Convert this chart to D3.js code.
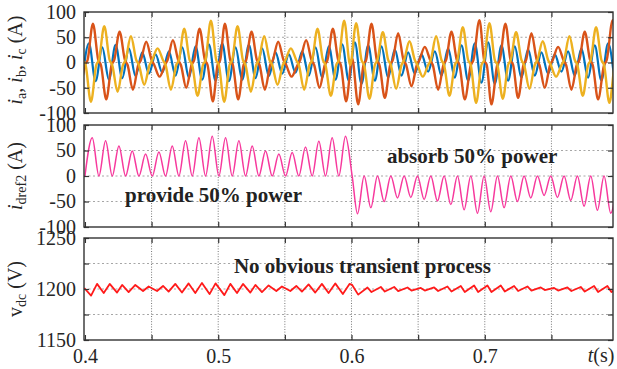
<!DOCTYPE html>
<html>
<head>
<meta charset="utf-8">
<script src="https://cdn.jsdelivr.net/npm/d3@7"></script>
<style>
  body { margin: 0; background: #fff; }
  text { font-family: "Liberation Serif", "Times New Roman", serif; }
</style>
</head>
<body>
<div id="chart"></div>
<script>
// ---- data ----
const xTicks = [0.4, 0.5, 0.6, 0.7];
const xGrid = [0.45, 0.5, 0.55, 0.6, 0.65, 0.7, 0.75];
const currentTicks = [-100, -50, 0, 50, 100];
const vdcTicks = [1150, 1175, 1200, 1225, 1250];
const vdcTickLabels = [1150, 1200, 1250];

// phase currents [t, A]
const iaBlue = [
  [0.398,-35],[0.403,38],[0.408,-37],[0.413,30],[0.418,-34],[0.423,35],[0.428,-31],[0.433,28],[0.438,-27],[0.443,20],
  [0.448,-22],[0.453,16],[0.458,-20],[0.463,22],[0.468,-26],[0.473,30],[0.478,-30],[0.483,32],[0.488,-34],[0.493,36],
  [0.498,-36],[0.503,38],[0.508,-37],[0.513,30],[0.518,-34],[0.523,35],[0.528,-31],[0.533,28],[0.538,-27],[0.543,20],
  [0.548,-22],[0.553,16],[0.558,-20],[0.563,22],[0.568,-26],[0.573,30],[0.578,-30],[0.583,32],[0.588,-34],[0.593,36],
  [0.598,-36],[0.6025,40],[0.6075,-42],[0.6125,34],[0.6175,-36],[0.6225,32],[0.6275,-30],[0.6325,26],[0.6375,-26],[0.6425,20],
  [0.6475,-22],[0.6525,16],[0.6575,-18],[0.6625,22],[0.6675,-26],[0.6725,28],[0.6775,-30],[0.6825,34],[0.6875,-36],[0.6925,38],
  [0.6975,-40],[0.7025,40],[0.7075,-42],[0.7125,34],[0.7175,-36],[0.7225,32],[0.7275,-30],[0.7325,26],[0.7375,-26],[0.7425,20],
  [0.7475,-22],[0.7525,16],[0.7575,-18],[0.7625,22],[0.7675,-26],[0.7725,28],[0.7775,-30],[0.7825,34],[0.7875,-36],[0.7925,38],
  [0.7975,-40]
];
const ibOrange = [
  [0.396,-76],[0.400,-5],[0.402,5],[0.406,77],[0.410,5],[0.412,-5],[0.416,-73],[0.420,-5],[0.422,5],
  [0.426,61],[0.430,5],[0.432,-5],[0.436,-54],[0.440,-5],[0.442,5],[0.446,41],[0.450,5],[0.452,-5],
  [0.456,-28],[0.460,-5],[0.462,5],[0.466,44],[0.470,5],[0.472,-5],[0.476,-50],[0.480,-5],[0.482,5],
  [0.486,67],[0.490,5],[0.492,-5],[0.496,-77],[0.4995,-5],[0.5015,5],[0.505,77],[0.509,5],[0.511,-5],
  [0.515,-73],[0.519,-5],[0.521,5],[0.525,61],[0.529,5],[0.531,-5],[0.535,-54],[0.539,-5],[0.541,5],
  [0.545,41],[0.549,5],[0.551,-5],[0.555,-28],[0.5595,-5],[0.5615,5],[0.566,44],[0.570,5],[0.572,-5],
  [0.576,-50],[0.580,-5],[0.582,5],[0.586,67],[0.590,5],[0.592,-5],[0.596,-77],[0.6005,8],
  [0.605,-83],[0.609,-5],[0.611,5],[0.615,77],[0.619,5],[0.621,-5],[0.625,-70],[0.629,-5],[0.631,5],
  [0.635,58],[0.639,5],[0.641,-5],[0.645,-47],[0.649,-5],[0.651,5],[0.655,31],[0.659,5],[0.661,-5],
  [0.665,-54],[0.669,-5],[0.671,5],[0.675,61],[0.679,5],[0.681,-5],[0.685,-73],[0.6895,-5],[0.6915,5],
  [0.696,84],[0.6995,5],[0.7015,-5],[0.705,-83],[0.7093,-5],[0.7113,5],[0.7155,77],[0.7193,5],[0.7213,-5],
  [0.725,-70],[0.729,-5],[0.731,5],[0.735,58],[0.739,5],[0.741,-5],[0.745,-50],[0.749,-5],[0.751,5],
  [0.755,31],[0.759,5],[0.761,-5],[0.765,-54],[0.769,-5],[0.771,5],[0.775,61],[0.779,5],[0.781,-5],
  [0.785,-73],[0.7895,-5],[0.7915,5],[0.796,84],[0.800,5],[0.802,-5],[0.806,-80]
];
const icYellow = [
  [0.3945,83],[0.3985,5],[0.4005,-5],[0.4045,-78],[0.4085,-5],[0.4105,5],[0.4145,72],[0.4185,5],[0.4205,-5],
  [0.4245,-58],[0.4285,-5],[0.4305,5],[0.4345,52],[0.4385,5],[0.4405,-5],[0.4445,-44],[0.4485,-5],[0.4505,5],
  [0.4545,28],[0.4585,5],[0.4605,-5],[0.4645,-54],[0.4685,-5],[0.4705,5],[0.4745,67],[0.4785,5],[0.4805,-5],
  [0.4845,-66],[0.4885,-5],[0.4905,5],[0.4945,83],[0.4985,5],[0.5005,-5],[0.5045,-78],[0.5085,-5],[0.5105,5],
  [0.5145,72],[0.5185,5],[0.5205,-5],[0.5245,-58],[0.5285,-5],[0.5305,5],[0.5345,52],[0.5385,5],[0.5405,-5],
  [0.5445,-44],[0.5485,-5],[0.5505,5],[0.5545,28],[0.5585,5],[0.5605,-5],[0.5645,-54],[0.5685,-5],[0.5705,5],
  [0.5745,67],[0.5785,5],[0.5805,-5],[0.5845,-66],[0.5885,-5],[0.5905,5],[0.5945,83],[0.599,-5],
  [0.6035,78],[0.6075,5],[0.6095,-5],[0.6135,-72],[0.6175,-5],[0.6195,5],[0.6235,60],[0.6275,5],[0.6295,-5],
  [0.6335,-52],[0.6375,-5],[0.6395,5],[0.6435,42],[0.6475,5],[0.6495,-5],[0.6535,-28],[0.6575,-5],[0.6595,5],
  [0.6635,52],[0.6675,5],[0.6695,-5],[0.6735,-66],[0.6775,-5],[0.6795,5],[0.6835,70],[0.6875,5],[0.6895,-5],
  [0.6935,-80],[0.6975,-5],[0.6995,5],[0.7035,78],[0.7075,5],[0.7095,-5],[0.7135,-72],[0.7175,-5],[0.7195,5],
  [0.7235,60],[0.7275,5],[0.7295,-5],[0.7335,-52],[0.7375,-5],[0.7395,5],[0.7435,42],[0.7475,5],[0.7495,-5],
  [0.7535,-28],[0.7575,-5],[0.7595,5],[0.7635,52],[0.7675,5],[0.7695,-5],[0.7735,-66],[0.7775,-5],[0.7795,5],
  [0.7835,70],[0.7875,5],[0.7895,-5],[0.7935,-80],[0.7975,-5],[0.7995,5],[0.8035,78]
];

// reference current i_dref2 [t, A]
const idref2 = [
  [0.4000,0],[0.4055,75],[0.4105,0],[0.4155,69],[0.4205,0],[0.4255,59],[0.4305,0],[0.4355,49],[0.4405,0],[0.4455,43],
  [0.4505,0],[0.4555,47],[0.4605,0],[0.4655,59],[0.4705,0],[0.4755,69],[0.4805,0],[0.4855,75],[0.4905,0],[0.4955,78],
  [0.5005,0],[0.5055,75],[0.5105,0],[0.5155,69],[0.5205,0],[0.5255,59],[0.5305,0],[0.5355,49],[0.5405,0],[0.5455,43],
  [0.5505,0],[0.5555,46],[0.5605,0],[0.5655,57],[0.5705,0],[0.5755,68],[0.5805,0],[0.5855,75],[0.5905,0],[0.5955,78],
  [0.6005,0],[0.6045,-74],[0.6095,0],[0.6145,-62],[0.6195,0],[0.6245,-50],[0.6295,0],[0.6345,-43],[0.6395,0],[0.6445,-42],
  [0.6495,0],[0.6545,-46],[0.6595,0],[0.6645,-49],[0.6695,0],[0.6745,-56],[0.6795,0],[0.6845,-66],[0.6895,0],[0.6945,-73],
  [0.6995,0],[0.7045,-70],[0.7095,0],[0.7145,-62],[0.7195,0],[0.7245,-50],[0.7295,0],[0.7345,-43],[0.7395,0],[0.7445,-38],
  [0.7495,0],[0.7545,-42],[0.7595,0],[0.7645,-48],[0.7695,0],[0.7745,-59],[0.7795,0],[0.7845,-67],[0.7895,0],[0.7945,-73],
  [0.7995,0]
];

// dc link voltage [t, V]
const vdc = [
  [0.3995,1201],[0.4046,1193.5],[0.4091,1205],[0.4141,1196],[0.4186,1205],[0.4241,1196.5],[0.4279,1204],[0.4328,1197],[0.4378,1204],[0.4436,1198],
  [0.4478,1202.5],[0.4541,1198],[0.4586,1203],[0.4628,1197.5],[0.4678,1205],[0.4728,1196.5],[0.4778,1205.5],[0.4828,1196],[0.4878,1206],[0.4935,1195],
  [0.4980,1205.5],[0.5046,1194],[0.5091,1205],[0.5141,1196],[0.5186,1205],[0.5241,1196.5],[0.5279,1204],[0.5328,1197],[0.5378,1203.5],[0.5436,1198],
  [0.5478,1202.5],[0.5541,1198],[0.5586,1203],[0.5628,1197.5],[0.5678,1204.5],[0.5728,1196.5],[0.5778,1205],[0.5828,1196],[0.5878,1205.5],[0.5935,1195],
  [0.5985,1205],[0.6005,1204],[0.6050,1194.5],[0.6120,1201.5],[0.6150,1197],[0.6220,1202],[0.6250,1197.5],[0.6320,1202],[0.6350,1198],[0.6420,1201.5],
  [0.6450,1198.5],[0.6520,1201],[0.6550,1198.5],[0.6620,1201.5],[0.6650,1198],[0.6720,1202.5],[0.6750,1197.5],[0.6820,1203],[0.6850,1197],[0.6920,1203.5],
  [0.6950,1197],[0.7020,1203.5],[0.7050,1197],[0.7120,1203.5],[0.7150,1197.5],[0.7220,1203],[0.7250,1198],[0.7320,1202.5],[0.7350,1198.5],[0.7420,1201.5],
  [0.7450,1199],[0.7520,1201],[0.7550,1198.5],[0.7620,1201.5],[0.7650,1198],[0.7720,1202],[0.7750,1197.5],[0.7820,1203],[0.7850,1197],[0.7920,1203],
  [0.7950,1197],[0.8020,1203]
];

const annotations = [
  { text: 'absorb 50% power', t: 0.6266, v: 25, panel: 1 },
  { text: 'provide 50% power', t: 0.4301, v: -50, panel: 1 },
  { text: 'No obvious transient process', t: 0.5118, v: 1215.5, panel: 2 }
];

// ---- layout ----
const width = 617;
const height = 369;
const left = 84, right = 613;

const svg = d3.select('#chart')
  .append('svg')
  .attr('width', width)
  .attr('height', height);

// X Scale
const x = d3.scaleLinear()
  .domain([0.3993, 0.7962])
  .range([left, right]);

const panels = [
  { top: 12, bottom: 113, domain: [-100, 100], ticks: currentTicks, labels: currentTicks, grid: [-50, 0, 50] },
  { top: 125, bottom: 227, domain: [-100, 100], ticks: currentTicks, labels: currentTicks, grid: [-50, 0, 50] },
  { top: 238, bottom: 340, domain: [1150, 1250], ticks: vdcTicks, labels: vdcTickLabels, grid: [1175, 1200, 1225] }
];

panels.forEach((p, i) => {
  p.y = d3.scaleLinear().domain(p.domain).range([p.bottom, p.top]);

  const g = svg.append('g');

  svg.append('clipPath')
    .attr('id', 'clip' + i)
    .append('rect')
    .attr('x', left)
    .attr('y', p.top)
    .attr('width', right - left)
    .attr('height', p.bottom - p.top);

  // grid
  g.selectAll('line.vg')
    .data(xGrid)
    .enter()
    .append('line')
    .attr('x1', d => x(d)).attr('x2', d => x(d))
    .attr('y1', p.top).attr('y2', p.bottom)
    .attr('stroke', '#555')
    .attr('stroke-width', 0.8)
    .attr('stroke-dasharray', '1,1.6');

  g.selectAll('line.hg')
    .data(p.grid)
    .enter()
    .append('line')
    .attr('x1', left).attr('x2', right)
    .attr('y1', d => p.y(d)).attr('y2', d => p.y(d))
    .attr('stroke', '#8f8f8f')
    .attr('stroke-width', 0.8)
    .attr('stroke-dasharray', '2,2.5');

  p.plot = svg.append('g').attr('clip-path', `url(#clip${i})`);
  p.axes = svg.append('g');
});

// curves
function drawLine(p, data, color, w, curve) {
  const line = d3.line()
    .x(d => x(d[0]))
    .y(d => p.y(d[1]))
    .curve(curve);
  p.plot.append('path')
    .datum(data)
    .attr('fill', 'none')
    .attr('stroke', color)
    .attr('stroke-width', w)
    .attr('stroke-linejoin', 'round')
    .attr('d', line);
}

drawLine(panels[0], iaBlue, '#0072BD', 2.2, d3.curveMonotoneX);
drawLine(panels[0], ibOrange, '#D95319', 2.4, d3.curveMonotoneX);
drawLine(panels[0], icYellow, '#EDB120', 2.4, d3.curveMonotoneX);
drawLine(panels[1], idref2, '#f7399d', 1.5, d3.curveMonotoneX);
drawLine(panels[2], vdc, '#ff1a1a', 1.8, d3.curveLinear);

// axes and frame
panels.forEach((p, i) => {
  const fmt = d => p.labels.includes(d) ? String(d).replace('\u2212', '-') : '';

  p.axes.append('g')
    .attr('transform', `translate(${left},0)`)
    .call(d3.axisLeft(p.y).tickValues(p.ticks).tickSize(-5).tickPadding(8).tickFormat(fmt));

  p.axes.append('g')
    .attr('transform', `translate(${right},0)`)
    .call(d3.axisRight(p.y).tickValues(p.ticks).tickSize(-5).tickFormat(''));

  const xt = [0.4, 0.45, 0.5, 0.55, 0.6, 0.65, 0.7, 0.75];
  p.axes.append('g')
    .attr('transform', `translate(0,${p.top})`)
    .call(d3.axisTop(x).tickValues(xt).tickSize(-5).tickFormat(''));

  p.axes.append('g')
    .attr('transform', `translate(0,${p.bottom})`)
    .call(d3.axisBottom(x).tickValues(xt).tickSize(-5).tickPadding(9)
      .tickFormat(d => (i === 2 && xTicks.includes(d)) ? d3.format('.1f')(d) : ''));

  p.axes.selectAll('.domain').remove();
  p.axes.selectAll('.tick line').attr('stroke', '#333').attr('stroke-width', 1.2);
  p.axes.selectAll('.tick text')
    .attr('fill', '#262626')
    .style('font-family', '"Liberation Serif", serif')
    .style('font-size', '20px');

  p.axes.append('rect')
    .attr('x', left).attr('y', p.top)
    .attr('width', right - left).attr('height', p.bottom - p.top)
    .attr('fill', 'none')
    .attr('stroke', '#333')
    .attr('stroke-width', 1.4);
});

// t(s) label
const tl = svg.append('text')
  .attr('x', 601)
  .attr('y', 362)
  .attr('text-anchor', 'middle')
  .attr('fill', '#262626')
  .style('font-size', '20px');
tl.append('tspan').style('font-style', 'italic').text('t');
tl.append('tspan').text('(s)');

// Y-axis labels
function yLabel(cy, parts) {
  const t = svg.append('text')
    .attr('transform', `translate(22,${cy}) rotate(-90)`)
    .attr('text-anchor', 'middle')
    .attr('fill', '#262626')
    .style('font-size', '20px');
  parts.forEach(pt => {
    const s = t.append('tspan').text(pt.s);
    if (pt.it) s.style('font-style', 'italic');
    if (pt.sub) s.attr('dy', 4).style('font-size', '14px');
    if (pt.back) s.attr('dy', -4);
  });
}

yLabel(60, [
  { s: 'i', it: true }, { s: 'a', sub: true }, { s: ', ', back: true },
  { s: 'i', it: true }, { s: 'b', sub: true }, { s: ', ', back: true },
  { s: 'i', it: true }, { s: 'c', sub: true }, { s: ' (A)', back: true }
]);
yLabel(176, [{ s: 'i', it: true }, { s: 'dref2', sub: true }, { s: ' (A)', back: true }]);
yLabel(289, [{ s: 'v' }, { s: 'dc', sub: true }, { s: ' (V)', back: true }]);

// annotations
annotations.forEach(a => {
  svg.append('text')
    .attr('x', x(a.t))
    .attr('y', panels[a.panel].y(a.v))
    .attr('fill', '#222')
    .style('font-weight', 'bold')
    .style('font-size', '21px')
    .text(a.text);
});
</script>
</body>
</html>
